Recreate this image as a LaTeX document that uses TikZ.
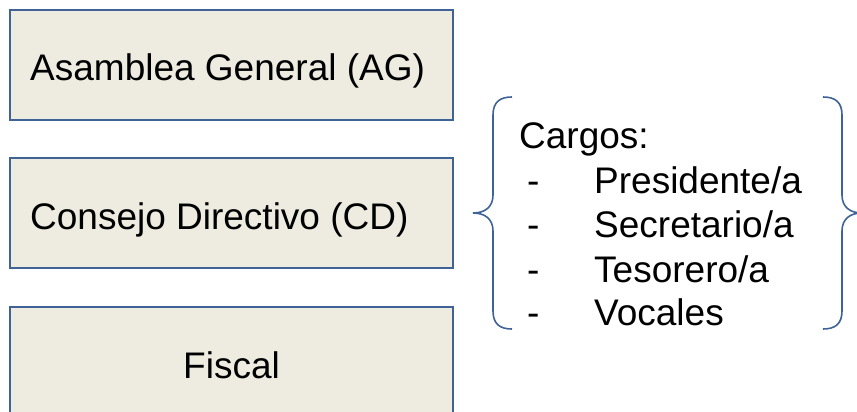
\documentclass[tikz,border=0pt]{standalone}
\usepackage{fontspec}
\setmainfont{Liberation Sans}
\definecolor{boxfill}{HTML}{EEEBE0}
\definecolor{boxline}{HTML}{3F6397}
\begin{document}
\begin{tikzpicture}[x=1pt,y=-1pt,
  orgbox/.style={draw=boxline,line width=1.6pt,fill=boxfill,rectangle},
  bigtxt/.style={font=\fontsize{37}{44}\selectfont,inner sep=0pt},
  bracestyle/.style={draw=boxline,line width=1.6pt}]
\useasboundingbox (0,0) rectangle (857,412);
\clip (0,0) rectangle (857,412);
\draw[orgbox] (10,10) rectangle (453,120);
\draw[orgbox] (10,158) rectangle (453,268);
\draw[orgbox] (10,307) rectangle (453,440);
\node[bigtxt,anchor=base west] (ag) at (30,81) {Asamblea General (AG)};
\node[bigtxt,anchor=base west] (cd) at (30,229) {Consejo Directivo (CD)};
\node[bigtxt,anchor=base] (fi) at (231.5,378) {Fiscal};
\draw[bracestyle] (512,97) .. controls (500,97) and (493,102) .. (493,115) -- (493,195)
  .. controls (493,207) and (485,213) .. (473,213)
  .. controls (485,213) and (493,219) .. (493,231) -- (493,311)
  .. controls (493,324) and (500,329) .. (512,329);
\draw[bracestyle] (823,97) .. controls (835,97) and (842,102) .. (842,115) -- (842,195)
  .. controls (842,207) and (850,213) .. (862,213)
  .. controls (850,213) and (842,219) .. (842,231) -- (842,311)
  .. controls (842,324) and (835,329) .. (823,329);
\node[bigtxt,anchor=base west] (cargos) at (519,148) {Cargos:};
\node[bigtxt,anchor=base west] (d1) at (527,193) {-};
\node[bigtxt,anchor=base west] (d2) at (527,237) {-};
\node[bigtxt,anchor=base west] (d3) at (527,282) {-};
\node[bigtxt,anchor=base west] (d4) at (527,325) {-};
\node[bigtxt,anchor=base west] (p1) at (594,193) {Presidente/a};
\node[bigtxt,anchor=base west] (p2) at (594,237) {Secretario/a};
\node[bigtxt,anchor=base west] (p3) at (594,282) {Tesorero/a};
\node[bigtxt,anchor=base west] (p4) at (594,325) {Vocales};
\end{tikzpicture}
\end{document}
